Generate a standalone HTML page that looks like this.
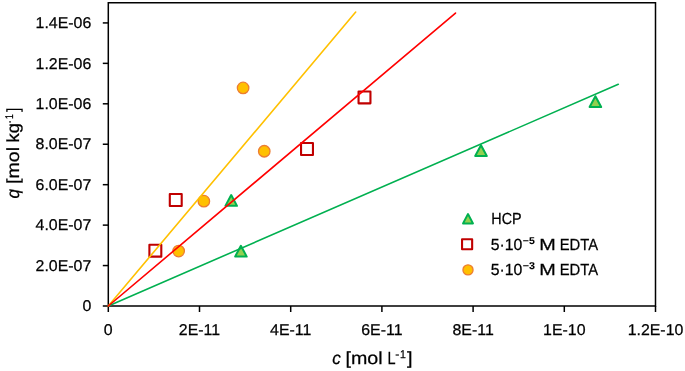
<!DOCTYPE html>
<html><head><meta charset="utf-8"><title>chart</title>
<style>html,body{margin:0;padding:0;background:#fff;}svg{display:block;text-rendering:geometricPrecision;}</style>
</head><body>
<svg width="685" height="371" viewBox="0 0 685 371">
<rect width="685" height="371" fill="#fff"/>
<path d="M108.3 2.7H655.5V306.0H108.3Z" fill="none" stroke="#000" stroke-width="1.5"/>
<path d="M102.8 306.00H108.3" stroke="#000" stroke-width="1.5"/>
<path d="M102.8 265.56H108.3" stroke="#000" stroke-width="1.5"/>
<path d="M102.8 225.12H108.3" stroke="#000" stroke-width="1.5"/>
<path d="M102.8 184.68H108.3" stroke="#000" stroke-width="1.5"/>
<path d="M102.8 144.24H108.3" stroke="#000" stroke-width="1.5"/>
<path d="M102.8 103.80H108.3" stroke="#000" stroke-width="1.5"/>
<path d="M102.8 63.36H108.3" stroke="#000" stroke-width="1.5"/>
<path d="M102.8 22.92H108.3" stroke="#000" stroke-width="1.5"/>
<path d="M108.30 306.0V312.0" stroke="#000" stroke-width="1.5"/>
<path d="M199.50 306.0V312.0" stroke="#000" stroke-width="1.5"/>
<path d="M290.70 306.0V312.0" stroke="#000" stroke-width="1.5"/>
<path d="M381.90 306.0V312.0" stroke="#000" stroke-width="1.5"/>
<path d="M473.10 306.0V312.0" stroke="#000" stroke-width="1.5"/>
<path d="M564.30 306.0V312.0" stroke="#000" stroke-width="1.5"/>
<path d="M655.50 306.0V312.0" stroke="#000" stroke-width="1.5"/>
<path d="M231.20 195.05L237.00 205.85H225.40Z" fill="#92d050" stroke="#00b050" stroke-width="2.0" stroke-linejoin="round"/>
<path d="M240.90 245.80L246.70 256.60H235.10Z" fill="#92d050" stroke="#00b050" stroke-width="2.0" stroke-linejoin="round"/>
<path d="M481.00 145.25L486.80 156.05H475.20Z" fill="#92d050" stroke="#00b050" stroke-width="2.0" stroke-linejoin="round"/>
<path d="M595.40 96.20L601.20 107.00H589.60Z" fill="#92d050" stroke="#00b050" stroke-width="2.0" stroke-linejoin="round"/>
<rect x="149.40" y="244.75" width="11.90" height="11.90" fill="none" stroke="#c00000" stroke-width="2.1" stroke-linejoin="round"/>
<rect x="169.80" y="194.05" width="11.90" height="11.90" fill="none" stroke="#c00000" stroke-width="2.1" stroke-linejoin="round"/>
<rect x="301.05" y="143.05" width="11.90" height="11.90" fill="none" stroke="#c00000" stroke-width="2.1" stroke-linejoin="round"/>
<rect x="358.55" y="91.45" width="11.90" height="11.90" fill="none" stroke="#c00000" stroke-width="2.1" stroke-linejoin="round"/>
<circle cx="178.65" cy="251.05" r="5.75" fill="#ffc000" stroke="#ed7d31" stroke-width="1.3"/>
<circle cx="203.85" cy="201.20" r="5.75" fill="#ffc000" stroke="#ed7d31" stroke-width="1.3"/>
<circle cx="264.25" cy="151.25" r="5.75" fill="#ffc000" stroke="#ed7d31" stroke-width="1.3"/>
<circle cx="243.10" cy="87.95" r="5.75" fill="#ffc000" stroke="#ed7d31" stroke-width="1.3"/>
<path d="M108.3 306.0L618.3 84.3" stroke="#00b050" stroke-width="1.6" stroke-linecap="round" fill="none"/>
<path d="M108.3 306.0L355.7 12.1" stroke="#ffc000" stroke-width="1.6" stroke-linecap="round" fill="none"/>
<path d="M108.3 306.0L455.5 13.1" stroke="#ff0000" stroke-width="1.6" stroke-linecap="round" fill="none"/>
<g font-family='"Liberation Sans", sans-serif' font-size="15.6" fill="#000" stroke="#000" stroke-width="0.25">
<text transform="translate(91.3 311.20) scale(1.02 1)" text-anchor="end">0</text>
<text transform="translate(91.3 270.76) scale(1.02 1)" text-anchor="end">2.0E-07</text>
<text transform="translate(91.3 230.32) scale(1.02 1)" text-anchor="end">4.0E-07</text>
<text transform="translate(91.3 189.88) scale(1.02 1)" text-anchor="end">6.0E-07</text>
<text transform="translate(91.3 149.44) scale(1.02 1)" text-anchor="end">8.0E-07</text>
<text transform="translate(91.3 109.00) scale(1.02 1)" text-anchor="end">1.0E-06</text>
<text transform="translate(91.3 68.56) scale(1.02 1)" text-anchor="end">1.2E-06</text>
<text transform="translate(91.3 28.12) scale(1.02 1)" text-anchor="end">1.4E-06</text>
<text transform="translate(108.30 334.6) scale(1.02 1)" text-anchor="middle">0</text>
<text transform="translate(199.50 334.6) scale(1.02 1)" text-anchor="middle">2E-11</text>
<text transform="translate(290.70 334.6) scale(1.02 1)" text-anchor="middle">4E-11</text>
<text transform="translate(381.90 334.6) scale(1.02 1)" text-anchor="middle">6E-11</text>
<text transform="translate(473.10 334.6) scale(1.02 1)" text-anchor="middle">8E-11</text>
<text transform="translate(564.30 334.6) scale(1.02 1)" text-anchor="middle">1E-10</text>
<text transform="translate(655.50 334.6) scale(1.02 1)" text-anchor="middle">1.2E-10</text>
</g>
<g font-family='"Liberation Sans", sans-serif' fill="#000" stroke="#000" stroke-width="0.25">
<text transform="translate(332.21 364.20) scale(0.9750 1)" font-size="17.5" font-style="italic">c</text>
<text transform="translate(345.50 364.20) scale(1.1220 1)" font-size="17.5">[mol</text>
<text transform="translate(387.56 364.20) scale(0.8258 1)" font-size="17.5">L</text>
<text transform="translate(395.35 358.00) scale(1.0909 1)" font-size="11.2">-</text>
<text transform="translate(400.10 358.00) scale(0.9400 1)" font-size="11.2">1</text>
<text transform="translate(407.02 364.20) scale(1.1385 1)" font-size="17.5">]</text>
<g transform="translate(19.0 200) rotate(-90)">
<text transform="translate(1.62 0.00) scale(0.9667 1)" font-size="17.5" font-style="italic">q</text>
<text transform="translate(16.10 0.00) scale(1.1187 1)" font-size="17.5">[mol</text>
<text transform="translate(57.60 0.00) scale(1.0437 1)" font-size="17.5">kg</text>
<text transform="translate(76.91 -6.20) scale(0.5818 1)" font-size="11.2">-</text>
<text transform="translate(80.93 -6.20) scale(0.7600 1)" font-size="11.2">1</text>
<text transform="translate(88.29 0.00) scale(0.8308 1)" font-size="17.5">]</text>
</g>
<text transform="translate(491.28 223.80) scale(0.8976 1)" font-size="16">HCP</text>
<text transform="translate(490.76 249.70) scale(0.9886 1)" font-size="16">5·10</text>
<text transform="translate(522.87 243.80) scale(1.0667 1)" font-size="9.8" font-weight="bold" stroke-width="0.1">−5</text>
<text transform="translate(539.15 249.70) scale(1.2372 1)" font-size="16">M</text>
<text transform="translate(559.74 249.70) scale(0.9242 1)" font-size="16">EDTA</text>
<text transform="translate(490.76 274.60) scale(0.9886 1)" font-size="16">5·10</text>
<text transform="translate(522.85 268.70) scale(1.0927 1)" font-size="9.8" font-weight="bold" stroke-width="0.1">−3</text>
<text transform="translate(539.15 274.60) scale(1.2372 1)" font-size="16">M</text>
<text transform="translate(559.74 274.60) scale(0.9242 1)" font-size="16">EDTA</text>
</g>
<path d="M468.00 214.05L473.00 223.45H463.00Z" fill="#92d050" stroke="#00b050" stroke-width="1.9" stroke-linejoin="round"/>
<rect x="462.05" y="239.20" width="10.10" height="10.10" fill="none" stroke="#c00000" stroke-width="2.1" stroke-linejoin="round"/>
<circle cx="468.00" cy="269.90" r="5.05" fill="#ffc000" stroke="#ed7d31" stroke-width="1.3"/>
</svg>
</body></html>
